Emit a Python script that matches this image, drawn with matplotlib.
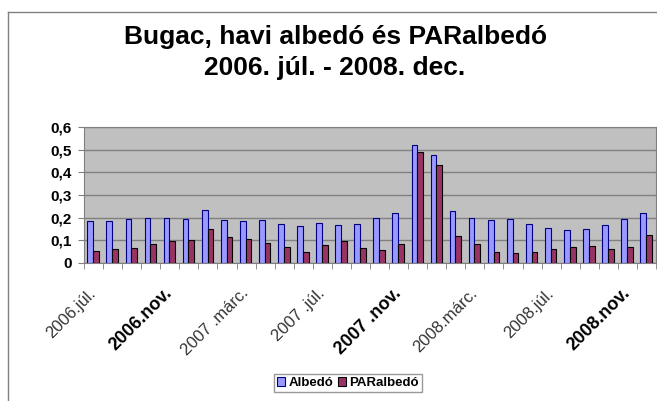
import matplotlib.pyplot as plt
import matplotlib.transforms as mtransforms
import numpy as np

plt.rcParams['font.family'] = ['Liberation Sans', 'DejaVu Sans']

# havi adatok 2006 júl - 2008 dec
months = ['2006.júl.', '2006.aug.', '2006.szept.', '2006.okt.', '2006.nov.', '2006.dec.',
          '2007.jan.', '2007.febr.', '2007 .márc.', '2007.ápr.', '2007.máj.', '2007.jún.',
          '2007 .júl.', '2007.aug.', '2007.szept.', '2007.okt.', '2007 .nov.', '2007.dec.',
          '2008.jan.', '2008.febr.', '2008.márc.', '2008.ápr.', '2008.máj.', '2008.jún.',
          '2008.júl.', '2008.aug.', '2008.szept.', '2008.okt.', '2008.nov.', '2008.dec.']
albedo = [0.184, 0.184, 0.194, 0.199, 0.199, 0.194, 0.232, 0.190, 0.185, 0.190,
          0.172, 0.162, 0.176, 0.166, 0.172, 0.199, 0.221, 0.519, 0.476, 0.228,
          0.199, 0.190, 0.196, 0.172, 0.153, 0.144, 0.149, 0.166, 0.196, 0.221]
paralbedo = [0.054, 0.060, 0.066, 0.082, 0.096, 0.100, 0.151, 0.116, 0.104, 0.087,
             0.069, 0.050, 0.079, 0.097, 0.066, 0.056, 0.084, 0.490, 0.434, 0.118,
             0.082, 0.050, 0.046, 0.050, 0.062, 0.071, 0.075, 0.062, 0.071, 0.125]
label_idx = [0, 4, 8, 12, 16, 20, 24, 28]
bold_idx = [4, 16, 28]

fig = plt.figure(figsize=(6.57, 4.01), dpi=100)
# keret
fig.add_artist(plt.Line2D([8/657, 8/657], [0, 1 - 12/401], transform=fig.transFigure, color='#808080', lw=1))
fig.add_artist(plt.Line2D([8/657, 1], [1 - 12/401, 1 - 12/401], transform=fig.transFigure, color='#808080', lw=1))

ax = fig.add_axes([84/657, 1 - 263/401, 572/657, 136/401])
ax.set_facecolor('#C0C0C0')

x = np.arange(len(months))
ax.bar(x - 0.17, albedo, width=0.3, color='#9999FF', edgecolor='#000080', linewidth=0.8, label='Albedó', zorder=3)
ax.bar(x + 0.13, paralbedo, width=0.3, color='#993366', edgecolor='black', linewidth=0.8, label='PARalbedó', zorder=3)

ax.set_xlim(-0.5, len(months) - 0.5)
ax.set_ylim(0, 0.6)
ax.set_yticks(np.arange(0, 0.61, 0.1))
ax.set_yticklabels(['0', '0,1', '0,2', '0,3', '0,4', '0,5', '0,6'], fontsize=11, fontweight='bold')
ax.yaxis.grid(True, color='#808080', linewidth=1, zorder=1)
ax.set_axisbelow(True)

ax.set_xticks(x[label_idx])
labels = ax.set_xticklabels([months[i] for i in label_idx], rotation=45, ha='right',
                            va='center', rotation_mode='anchor')
for i, lab in zip(label_idx, labels):
    if i in bold_idx:
        lab.set_fontweight('bold')
        lab.set_fontsize(13)
        dx = -5
    else:
        lab.set_fontsize(12)
        lab.set_color('#333333')
        dx = -7
    lab.set_transform(lab.get_transform() + mtransforms.ScaledTranslation(dx / 100, 0, fig.dpi_scale_trans))
ax.tick_params(axis='x', which='major', length=0, pad=20)
ax.set_xticks(np.arange(-0.5, len(months), 1), minor=True)
ax.tick_params(axis='x', which='minor', length=4, color='#808080', direction='out')
ax.tick_params(axis='y', length=4, color='#808080', pad=5)

for s in ['top', 'right', 'left', 'bottom']:
    ax.spines[s].set_color('#808080')

fig.text(0.510, 1 - 37/401, 'Bugac, havi albedó és PARalbedó', ha='center', va='center',
         fontsize=19, fontweight='bold')
fig.text(0.510, 1 - 68/401, '2006. júl. - 2008. dec.', ha='center', va='center',
         fontsize=19, fontweight='bold')

leg = fig.legend(loc='center', bbox_to_anchor=(348/657, 1 - 383/401), ncol=2,
                 prop={'weight': 'bold', 'size': 9.5}, frameon=True, fancybox=False,
                 handlelength=0.6, handleheight=0.6, handletextpad=0.25, columnspacing=0.4,
                 borderpad=0.25, borderaxespad=0, edgecolor='#808080')
leg.get_frame().set_linewidth(1)

fig.savefig('out.png', dpi=100)
